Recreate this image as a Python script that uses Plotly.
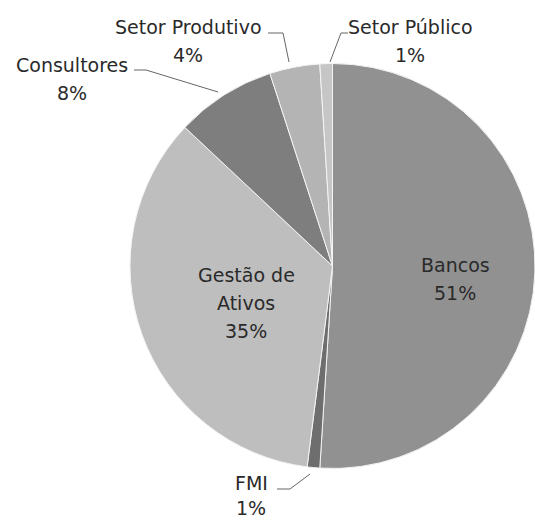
import plotly.graph_objects as go

labels = ["Bancos", "FMI", "Gestão de Ativos", "Consultores", "Setor Produtivo", "Setor Público"]
values = [51, 1, 35, 8, 4, 1]
label_lines = [["Bancos"], ["FMI"], ["Gestão de", "Ativos"], ["Consultores"], ["Setor Produtivo"], ["Setor Público"]]
colors = ["#919191", "#6e6e6e", "#bebebe", "#7e7e7e", "#b4b4b4", "#c6c6c6"]

W, H = 535, 523

def px(x):
    return x / W

def py(y):
    return 1 - y / H

fig = go.Figure()
fig.add_trace(go.Pie(
    labels=labels,
    values=values,
    sort=False,
    direction="clockwise",
    rotation=0,
    textinfo="none",
    hoverinfo="label+percent",
    marker=dict(colors=colors, line=dict(color="#f4f4f4", width=1)),
    domain=dict(x=[px(130), 1.0], y=[py(469), py(63)]),
    showlegend=False,
))

total = sum(values)
pct = [f"{round(v * 100 / total)}%" for v in values]

font = dict(family="'DejaVu Sans', sans-serif", size=19, color="#2a2a2a")

# label positions: (x centre, y of first line, line step) in pixels
pos = {
    "Bancos": (455, 265, 28),
    "Gestão de Ativos": (246, 275, 28),
    "Consultores": (72, 65, 28),
    "Setor Produtivo": (188, 27, 28),
    "Setor Público": (410, 27, 28),
    "FMI": (251, 483, 25),
}
for i, lab in enumerate(labels):
    x, y, step = pos[lab]
    lines = label_lines[i] + [pct[i]]
    for k, t in enumerate(lines):
        fig.add_annotation(
            x=px(x), y=py(y + k * step), xref="paper", yref="paper",
            text=t, showarrow=False, font=font, align="center",
            xanchor="center", yanchor="middle",
        )

# leader lines
leaders = [
    [(134, 70), (146, 70), (218, 92)],      # Consultores
    [(268, 33), (283, 33), (289, 62)],      # Setor Produtivo
    [(348, 33), (341, 33), (330, 62)],      # Setor Público
    [(277, 489), (290, 489), (310, 474)],   # FMI
]
for pts in leaders:
    path = "M " + " L ".join(f"{px(x)},{py(y)}" for x, y in pts)
    fig.add_shape(type="path", path=path, xref="paper", yref="paper",
                  line=dict(color="#666666", width=1))

fig.update_layout(
    width=W, height=H,
    margin=dict(l=0, r=0, t=0, b=0),
    paper_bgcolor="white",
    plot_bgcolor="white",
)

fig.write_html("out.html")
